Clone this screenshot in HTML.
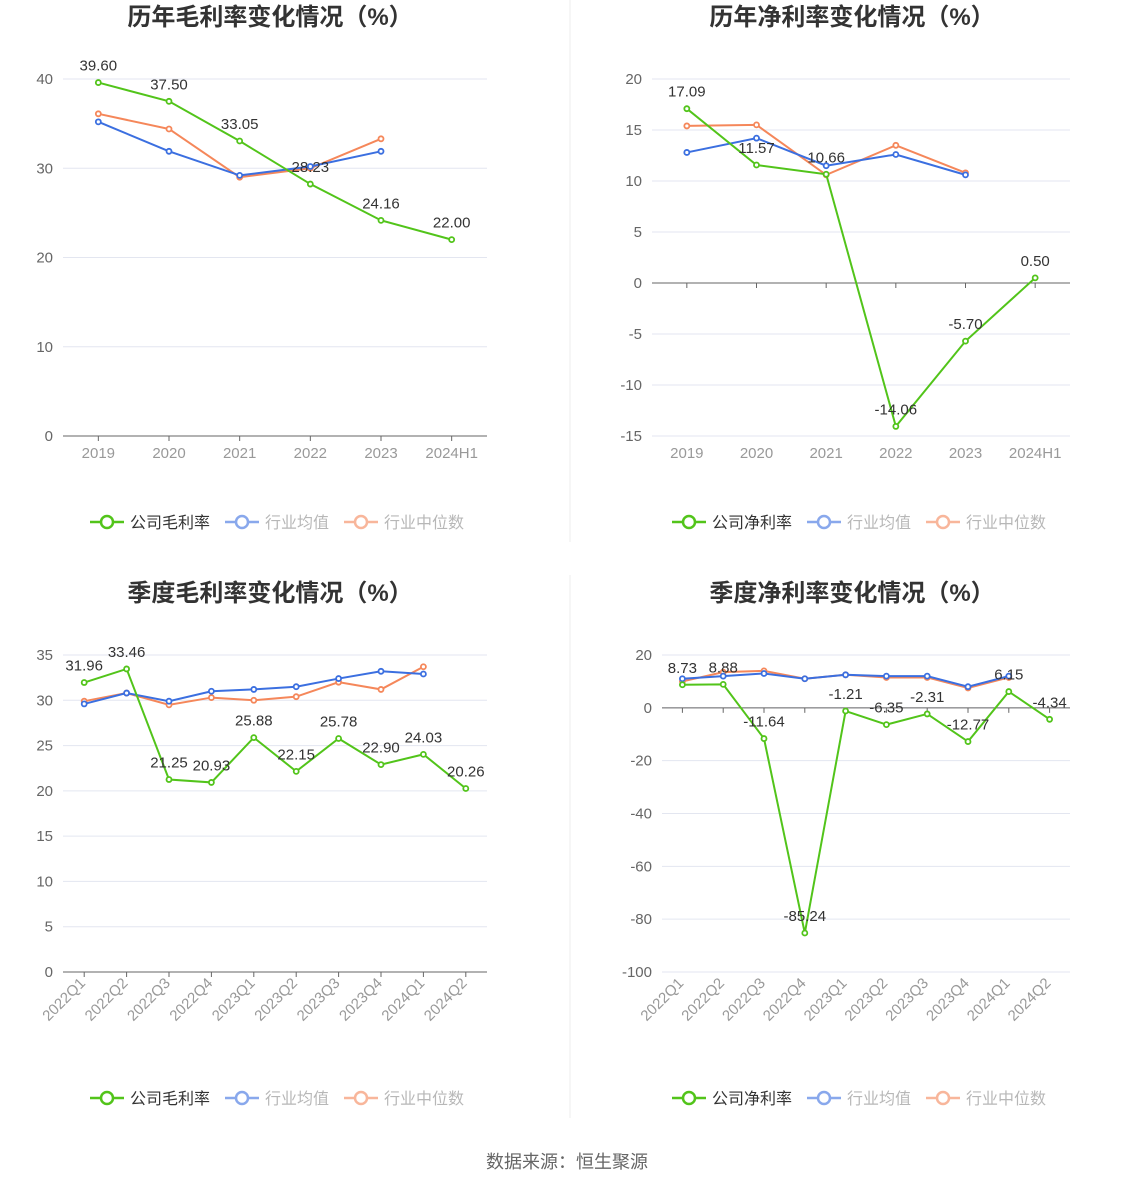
<!DOCTYPE html>
<html><head><meta charset="utf-8">
<style>
body{margin:0;background:#fff;font-family:"Liberation Sans","Noto Sans CJK SC",sans-serif;}
svg text{font-family:"Liberation Sans","Noto Sans CJK SC",sans-serif;}
</style></head>
<body>
<svg id="s" width="1134" height="1188" xmlns="http://www.w3.org/2000/svg">
<line x1="570" y1="0" x2="570" y2="542" stroke="#eee"/>
<line x1="570" y1="575" x2="570" y2="1118" stroke="#eee"/>
<text x="567" y="1168" font-size="18" fill="#666" text-anchor="middle">数据来源：恒生聚源</text>
</svg>
<script>
const yearCats=["2019","2020","2021","2022","2023","2024H1"];
const qCats=["2022Q1","2022Q2","2022Q3","2022Q4","2023Q1","2023Q2","2023Q3","2023Q4","2024Q1","2024Q2"];
const gmCompany=[39.60,37.50,33.05,28.23,24.16,22.00];
const gmAvg=[35.2,31.9,29.2,30.2,31.9];
const gmMed=[36.1,34.4,29.0,30.0,33.3];
const gmTicks=[0,10,20,30,40];
const nmCompany=[17.09,11.57,10.66,-14.06,-5.70,0.50];
const nmAvg=[12.8,14.2,11.5,12.6,10.6];
const nmMed=[15.4,15.5,10.6,13.5,10.8];
const nmTicks=[-15,-10,-5,0,5,10,15,20];
const qgCompany=[31.96,33.46,21.25,20.93,25.88,22.15,25.78,22.90,24.03,20.26];
const qgAvg=[29.6,30.8,29.9,31.0,31.2,31.5,32.4,33.2,32.9];
const qgMed=[29.9,30.8,29.5,30.3,30.0,30.4,32.0,31.2,33.7];
const qgTicks=[0,5,10,15,20,25,30,35];
const qnCompany=[8.73,8.88,-11.64,-85.24,-1.21,-6.35,-2.31,-12.77,6.15,-4.34];
const qnAvg=[11,12,13,11,12.5,12,12,8,12];
const qnMed=[10,13.5,14,11,12.5,11.5,11.5,7.5,11.5];
const qnTicks=[-100,-80,-60,-40,-20,0,20];

const NS="http://www.w3.org/2000/svg",S=document.getElementById('s');
const G="#52c41a",B="#3b6fe0",O="#f5875a";
function el(t,a,p){const e=document.createElementNS(NS,t);for(const k in a)e.setAttribute(k,a[k]);(p||S).appendChild(e);return e;}
function chart(o){
  const g=el('g',{});
  
  
  const tt=el('text',{x:o.cx,y:o.ty,'font-size':24,'font-weight':'bold',fill:'#333','text-anchor':'middle'},g);
  tt.textContent=o.title;
  
  
  const mn=o.ticks[0],mx=o.ticks[o.ticks.length-1];
  const y=v=>o.y1-(v-mn)/(mx-mn)*(o.y1-o.y0);
  const step=(o.x1-o.x0)/o.cats.length;
  const x=i=>o.x0+step*(i+0.5);
  o.ticks.forEach(t=>{
    const gl=el('line',{x1:o.x0,x2:o.x1,y1:y(t),y2:y(t),stroke:'#e3e6f0'},g);
    
    
    const tl=el('text',{x:o.x0-10,y:y(t)+5,'font-size':15,fill:'#666','text-anchor':'end'},g);
    tl.textContent=t;
    
    
  });
  const ay=y(0);
  const ax=el('line',{x1:o.x0,x2:o.x1,y1:ay,y2:ay,stroke:'#666'},g);
  
  
  o.cats.forEach((c,i)=>{
    el('line',{x1:x(i),x2:x(i),y1:ay,y2:ay+5,stroke:'#666'},g);
    let t;
    if(o.rot){t=el('text',{x:x(i)+2,y:o.y1+12,'font-size':15,fill:'#999','text-anchor':'end',transform:`rotate(-45 ${x(i)+2} ${o.y1+12})`},g);}
    else t=el('text',{x:x(i),y:o.y1+22,'font-size':15,fill:'#999','text-anchor':'middle'},g);
    t.textContent=c;
    
    
  });
  const series=[[o.med,O,'industry-median'],[o.avg,B,'industry-average'],[o.comp,G,'company-line']];
  series.forEach(([d,c,n])=>{
    const p=el('polyline',{points:d.map((v,i)=>x(i)+','+y(v)).join(' '),fill:'none',stroke:c,'stroke-width':2},g);
    
    
    d.forEach((v,i)=>{
      const ci=el('circle',{cx:x(i),cy:y(v),r:2.5,fill:'#fff',stroke:c,'stroke-width':1.8},g);
      
      
    });
  });
  o.comp.forEach((v,i)=>{
    const t=el('text',{x:x(i),y:y(v)-12,'font-size':15,fill:'#333','text-anchor':'middle'},g);
    t.textContent=v.toFixed(2);
    
    
  });
  const lx=o.cx-180,ly=o.ly;
  [[o.leg,G,1],['行业均值',B,0.6],['行业中位数',O,0.6]].forEach(([txt,c,op],k)=>{
    const bx=lx+[0,135,254][k];
    const lg=el('g',{opacity:op},g);
    
    
    el('line',{x1:bx,x2:bx+34,y1:ly,y2:ly,stroke:c,'stroke-width':2.5},lg);
    el('circle',{cx:bx+17,cy:ly,r:6,fill:'#fff',stroke:c,'stroke-width':2.5},lg);
    const t=el('text',{x:bx+40,y:ly+6,'font-size':16,fill:k?'#888':'#333'},lg);
    t.textContent=txt;
  });
}
chart({name:'annual-gross-margin-chart',title:'历年毛利率变化情况（%）',cx:270,ty:25,x0:63,x1:487,y0:79,y1:436,cats:yearCats,comp:gmCompany,avg:gmAvg,med:gmMed,ticks:gmTicks,ly:522,leg:'公司毛利率'});
chart({name:'annual-net-margin-chart',title:'历年净利率变化情况（%）',cx:852,ty:25,x0:652,x1:1070,y0:79,y1:436,cats:yearCats,comp:nmCompany,avg:nmAvg,med:nmMed,ticks:nmTicks,ly:522,leg:'公司净利率'});
chart({name:'quarterly-gross-margin-chart',title:'季度毛利率变化情况（%）',cx:270,ty:601,x0:63,x1:487,y0:655,y1:972,cats:qCats,comp:qgCompany,avg:qgAvg,med:qgMed,ticks:qgTicks,ly:1098,leg:'公司毛利率',rot:1});
chart({name:'quarterly-net-margin-chart',title:'季度净利率变化情况（%）',cx:852,ty:601,x0:662,x1:1070,y0:655,y1:972,cats:qCats,comp:qnCompany,avg:qnAvg,med:qnMed,ticks:qnTicks,ly:1098,leg:'公司净利率',rot:1});
</script>
</body></html>
